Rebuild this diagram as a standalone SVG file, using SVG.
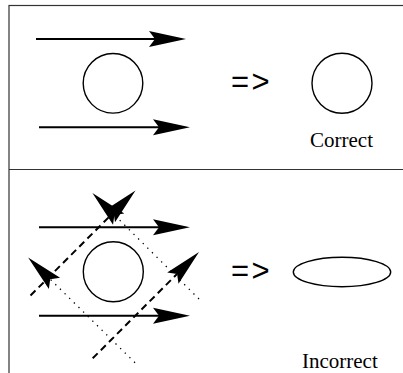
<svg xmlns="http://www.w3.org/2000/svg" width="403" height="373" viewBox="0 0 403 373">
<style>
.frame{fill:none;stroke:#333;stroke-width:1.2}
.shape{fill:none;stroke:#000;stroke-width:1.4}
.arrow{fill:none;stroke:#000;stroke-width:2}
.dashed{fill:none;stroke:#000;stroke-width:2;stroke-dasharray:7 4.5}
.dotted{fill:none;stroke:#000;stroke-width:1.3;stroke-dasharray:1.3 5.2}
.sym{font-family:"Liberation Sans",Arial,sans-serif;font-size:31px;letter-spacing:2.5px;fill:#000}
.lbl{font-family:"Liberation Serif","Times New Roman",serif;font-size:21px;fill:#000}
</style>
<defs>
<marker id="ah" markerUnits="userSpaceOnUse" markerWidth="40" markerHeight="20" viewBox="0 -10 40 20" refX="6" refY="0" orient="auto" overflow="visible">
<path d="M0,-8 L37,0 L0,8 L6,0 Z" fill="#000"/>
</marker>
</defs>
<g id="frame">
<rect class="frame" x="9" y="5.5" width="420" height="400"/>
<line class="frame" x1="9" y1="169.5" x2="403" y2="169.5"/>
</g>
<g id="top-circle"><circle class="shape" cx="113" cy="83.3" r="29.8"/></g>
<g id="top-result"><circle class="shape" cx="342" cy="83.3" r="30"/></g>
<g id="top-implies"><text class="sym" x="231" y="91.5">=&gt;</text></g>
<g id="label-correct"><text class="lbl" x="310" y="147.3">Correct</text></g>
<g id="bottom-circle"><circle class="shape" cx="113.3" cy="271.7" r="30"/></g>
<g id="bottom-result"><ellipse class="shape" cx="342" cy="272" rx="48.7" ry="14.7"/></g>
<g id="bottom-implies"><text class="sym" x="231" y="281">=&gt;</text></g>
<g id="label-incorrect"><text class="lbl" x="302" y="368">Incorrect</text></g>
<g id="connectors">
<path class="arrow" d="M36,39 L155,39" marker-end="url(#ah)"/>
<path class="arrow" d="M39,127.3 L159,127.3" marker-end="url(#ah)"/>
<path class="arrow" d="M39,227.3 L159,227.3" marker-end="url(#ah)"/>
<path class="arrow" d="M39,315.7 L159,315.7" marker-end="url(#ah)"/>
<path class="dashed" d="M30.5,295.5 L113.6,212.4" marker-end="url(#ah)"/>
<path class="dashed" d="M92.7,358.3 L177.1,273.9" marker-end="url(#ah)"/>
<path class="dotted" d="M199,299 L114.4,214.9" marker-end="url(#ah)"/>
<path class="dotted" d="M135,362.7 L50.2,279.2" marker-end="url(#ah)"/>
</g>
</svg>
